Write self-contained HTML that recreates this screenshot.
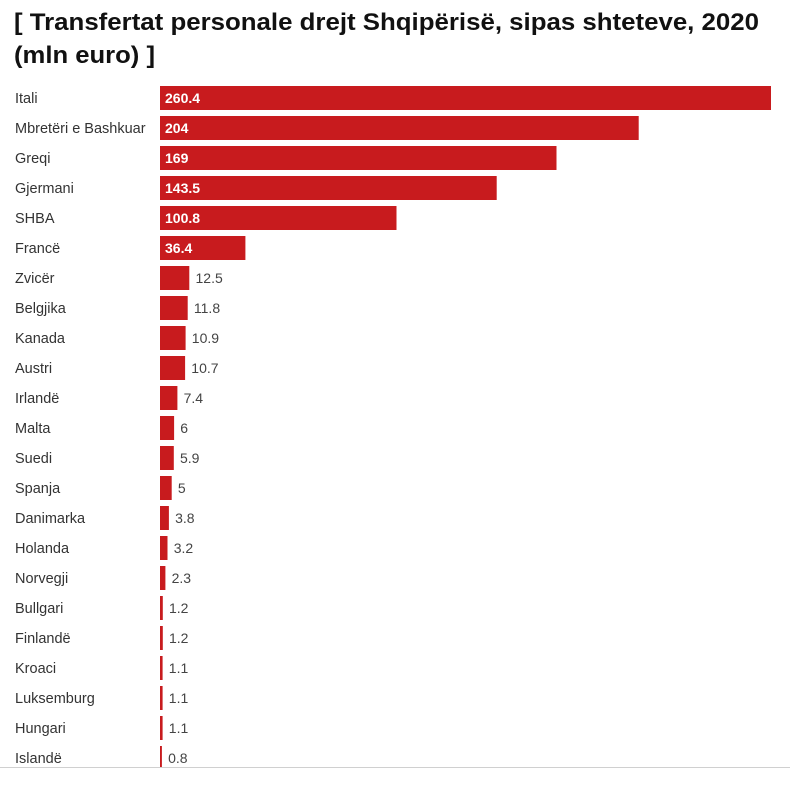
<!DOCTYPE html>
<html>
<head>
<meta charset="utf-8">
<style>
html,body{margin:0;padding:0;background:#fff;}
svg{display:block;}
.t{font-family:"Liberation Sans",Arial,sans-serif;font-weight:bold;font-size:24px;fill:#111;}
.l{font-family:"Liberation Sans",Arial,sans-serif;font-size:14.5px;fill:#333;}
.vi{font-family:"Liberation Sans",Arial,sans-serif;font-size:14px;font-weight:bold;fill:#fff;}
.vo{font-family:"Liberation Sans",Arial,sans-serif;font-size:14px;fill:#444;}
</style>
</head>
<body>
<svg width="790" height="808" viewBox="0 0 790 808" xmlns="http://www.w3.org/2000/svg">
<rect width="790" height="808" fill="#fff"/>
<text class="t" x="14" y="30" textLength="745" lengthAdjust="spacingAndGlyphs">[ Transfertat personale drejt Shqipërisë, sipas shteteve, 2020</text>
<text class="t" x="14" y="63" textLength="141" lengthAdjust="spacingAndGlyphs">(mln euro) ]</text>

<g fill="#c81b1e">
<rect x="160" y="86" width="611" height="24"/>
<rect x="160" y="116" width="478.7" height="24"/>
<rect x="160" y="146" width="396.5" height="24"/>
<rect x="160" y="176" width="336.7" height="24"/>
<rect x="160" y="206" width="236.5" height="24"/>
<rect x="160" y="236" width="85.4" height="24"/>
<rect x="160" y="266" width="29.3" height="24"/>
<rect x="160" y="296" width="27.7" height="24"/>
<rect x="160" y="326" width="25.6" height="24"/>
<rect x="160" y="356" width="25.1" height="24"/>
<rect x="160" y="386" width="17.4" height="24"/>
<rect x="160" y="416" width="14.1" height="24"/>
<rect x="160" y="446" width="13.8" height="24"/>
<rect x="160" y="476" width="11.7" height="24"/>
<rect x="160" y="506" width="8.9" height="24"/>
<rect x="160" y="536" width="7.5" height="24"/>
<rect x="160" y="566" width="5.4" height="24"/>
<rect x="160" y="596" width="2.8" height="24"/>
<rect x="160" y="626" width="2.8" height="24"/>
<rect x="160" y="656" width="2.6" height="24"/>
<rect x="160" y="686" width="2.6" height="24"/>
<rect x="160" y="716" width="2.6" height="24"/>
<rect x="160" y="746" width="1.9" height="21"/>
</g>

<text class="l" x="15" y="103">Itali</text>
<text class="l" x="15" y="133">Mbretëri e Bashkuar</text>
<text class="l" x="15" y="163">Greqi</text>
<text class="l" x="15" y="193">Gjermani</text>
<text class="l" x="15" y="223">SHBA</text>
<text class="l" x="15" y="253">Francë</text>
<text class="l" x="15" y="283">Zvicër</text>
<text class="l" x="15" y="313">Belgjika</text>
<text class="l" x="15" y="343">Kanada</text>
<text class="l" x="15" y="373">Austri</text>
<text class="l" x="15" y="403">Irlandë</text>
<text class="l" x="15" y="433">Malta</text>
<text class="l" x="15" y="463">Suedi</text>
<text class="l" x="15" y="493">Spanja</text>
<text class="l" x="15" y="523">Danimarka</text>
<text class="l" x="15" y="553">Holanda</text>
<text class="l" x="15" y="583">Norvegji</text>
<text class="l" x="15" y="613">Bullgari</text>
<text class="l" x="15" y="643">Finlandë</text>
<text class="l" x="15" y="673">Kroaci</text>
<text class="l" x="15" y="703">Luksemburg</text>
<text class="l" x="15" y="733">Hungari</text>
<text class="l" x="15" y="763">Islandë</text>

<text class="vi" x="165" y="103">260.4</text>
<text class="vi" x="165" y="133">204</text>
<text class="vi" x="165" y="163">169</text>
<text class="vi" x="165" y="193">143.5</text>
<text class="vi" x="165" y="223">100.8</text>
<text class="vi" x="165" y="253">36.4</text>

<text class="vo" x="195.5" y="283">12.5</text>
<text class="vo" x="193.9" y="313">11.8</text>
<text class="vo" x="191.8" y="343">10.9</text>
<text class="vo" x="191.3" y="373">10.7</text>
<text class="vo" x="183.6" y="403">7.4</text>
<text class="vo" x="180.3" y="433">6</text>
<text class="vo" x="180" y="463">5.9</text>
<text class="vo" x="177.9" y="493">5</text>
<text class="vo" x="175.1" y="523">3.8</text>
<text class="vo" x="173.7" y="553">3.2</text>
<text class="vo" x="171.6" y="583">2.3</text>
<text class="vo" x="169" y="613">1.2</text>
<text class="vo" x="169" y="643">1.2</text>
<text class="vo" x="168.8" y="673">1.1</text>
<text class="vo" x="168.8" y="703">1.1</text>
<text class="vo" x="168.8" y="733">1.1</text>
<text class="vo" x="168.1" y="763">0.8</text>

<rect x="0" y="767" width="790" height="1" fill="#d0d0d0"/>
</svg>
</body>
</html>
